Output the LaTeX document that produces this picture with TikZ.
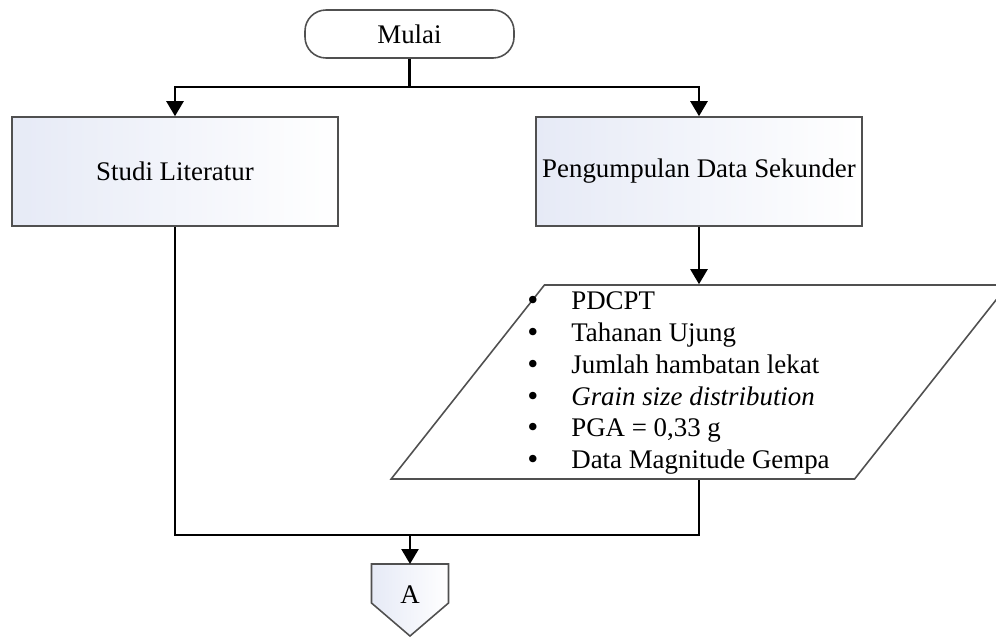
\documentclass[tikz,border=0pt]{standalone}
\usepackage{fontspec}
\setmainfont{Liberation Serif}
\newfontfamily\simbol{DejaVu Sans}
\usetikzlibrary{arrows.meta, positioning, calc, shapes.geometric, backgrounds}

\definecolor{biruMuda}{RGB}{230,234,246}
\definecolor{garisAbu}{RGB}{80,80,80}
\newcommand{\butir}[1]{\makebox[0.92cm][l]{\simbol\fontsize{14.5}{18.2}\selectfont •}#1}

\begin{document}
\begin{tikzpicture}[
        terminal/.style={
            rectangle,
            rounded corners=0.42cm,
            minimum width=4.18cm,
            minimum height=0.96cm,
            draw=garisAbu,
            line width=0.9pt,
            font=\fontsize{15.3}{18.2}\selectfont
        },
        proses/.style={
            rectangle,
            minimum width=6.52cm,
            minimum height=2.18cm,
            inner sep=2pt,
            draw=garisAbu,
            line width=0.9pt,
            left color=biruMuda,
            right color=white,
            font=\fontsize{15.3}{18.2}\selectfont
        },
        masukan/.style={
            trapezium,
            trapezium left angle=63.7,
            trapezium right angle=116.3,
            trapezium stretches=true,
            minimum width=12.34cm,
            minimum height=3.88cm,
            draw=garisAbu,
            line width=0.9pt
        },
        daftar/.style={
            align=left,
            inner sep=0pt,
            font=\fontsize{15.3}{18.2}\selectfont
        },
        penanda/.style={
            rectangle,
            minimum width=1.54cm,
            minimum height=1.24cm,
            outer sep=0pt,
            font=\fontsize{15.3}{18.2}\selectfont
        },
        garis/.style={line width=1.4pt, draw=black},
        panah/.style={garis, -{Triangle[length=0.3cm, width=0.34cm]}}
    ]
        \useasboundingbox (0,0) rectangle (19.92,-12.72);

        \node[terminal] (mulai) at (8.19,-0.68) {Mulai};
        \coordinate (cabang) at (8.19,-1.74);

        \node[proses] (studi) at (3.5,-3.43) {Studi Literatur};
        \node[proses] (pengumpulan) at (13.98,-3.43)
            {Pengumpulan Data Sekunder};

        \node[masukan] (data) at (13.99,-7.64) {};
        \node[daftar, anchor=west] (isidata) at (10.5,-7.66)
            {\butir{PDCPT}\\
             \butir{Tahanan Ujung}\\
             \butir{Jumlah hambatan lekat}\\
             \butir{\textit{Grain size distribution}}\\
             \butir{PGA = 0,33 g}\\
             \butir{Data Magnitude Gempa}};

        \coordinate (gabung) at (8.2,-10.7);
        \node[penanda, anchor=north] (konektor) at (8.2,-11.28) {A};
        \begin{scope}[on background layer]
            \shade[draw=garisAbu, line width=0.9pt, left color=biruMuda, right color=white]
                (konektor.north west) -- (konektor.north east) -- ++(0,-0.78)
                -- ($(konektor.north)+(0,-1.44)$)
                -- ($(konektor.north west)+(0,-0.78)$) -- cycle;
        \end{scope}

        \draw[garis] (mulai.south) -- (cabang);
        \draw[panah] (cabang) -| (studi.north);
        \draw[panah] (cabang) -| (pengumpulan.north);
        \draw[panah] (pengumpulan.south) -- (pengumpulan.south |- data.north);
        \draw[garis] (studi.south) |- (pengumpulan.south |- gabung)
            -- (pengumpulan.south |- data.south);
        \draw[panah] (gabung) -- (konektor.north);
    \end{tikzpicture}
\end{document}
